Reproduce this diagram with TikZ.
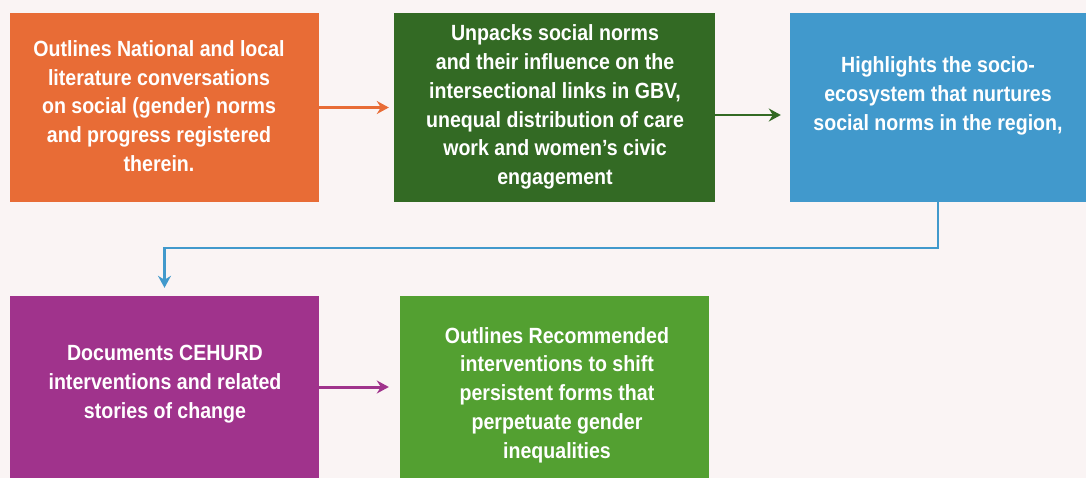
\documentclass[tikz,border=0pt]{standalone}
\usepackage{fontspec}
\usepackage{xcolor}
\usepackage{tikz}
\usetikzlibrary{arrows.meta}
\newfontfamily\boxfont{Liberation Sans}[FakeStretch=0.89]
\definecolor{paper}{HTML}{FAF4F4}
\definecolor{carrot}{HTML}{E86C36}
\definecolor{forest}{HTML}{336A24}
\definecolor{skyblue}{HTML}{4199CC}
\definecolor{plum}{HTML}{A0338C}
\definecolor{leaf}{HTML}{53A031}
\tikzstyle{box}=[draw=none,minimum height=189pt,inner sep=0pt]
\tikzstyle{lowbox}=[box,minimum height=182pt]
\tikzstyle{txt}=[text=white,align=center,inner sep=0pt,font=\boxfont\bfseries\fontsize{22}{28.8}\selectfont]
\tikzstyle{flow}=[line width=2.5pt,-{Stealth[length=12pt,width=13pt,inset=4pt]}]
\begin{document}
\begin{tikzpicture}[x=1pt,y=-1pt]
	\fill[paper] (0,0) rectangle (1086,478);
	\useasboundingbox (0,0) rectangle (1086,478);
	% top row
	\node[box,fill=carrot,minimum width=309pt] (b1) at (164.5,107.5) {};
	\node[box,fill=forest,minimum width=321pt] (b2) at (554.5,107.5) {};
	\node[box,fill=skyblue,minimum width=296pt] (b3) at (938,107.5) {};
	% bottom row
	\node[lowbox,fill=plum,minimum width=309pt] (b4) at (164.5,387) {};
	\node[lowbox,fill=leaf,minimum width=309pt] (b5) at (554.5,387) {};
	% texts
	\node[txt] (t1) at (159,106) {Outlines National and local\\ literature conversations\\ on social (gender) norms\\ and progress registered\\ therein.};
	\node[txt] (t2) at (555,107) {Unpacks social norms\\ and their influence on the\\ intersectional links in GBV,\\ unequal distribution of care\\ work and women’s civic\\ engagement};
	\node[txt] (t3) at (938,96) {Highlights the socio-\\ ecosystem that nurtures\\ social norms in the region,};
	\node[txt] (t4) at (165,384) {Documents CEHURD\\ interventions and related\\ stories of change};
	\node[txt] (t5) at (557,395) {Outlines Recommended\\ interventions to shift\\ persistent forms that\\ perpetuate gender\\ inequalities};
	% connectors
	\coordinate (bend) at (164.5,248);
	\draw[flow,carrot,line width=3pt] (b1.east) -- (b2.west) [shorten >=5pt];
	\draw[flow,forest] ([yshift=-7.5pt]b2.east) -- ([yshift=-7.5pt]b3.west) [shorten >=9pt];
	\draw[flow,skyblue] (b3.south) |- (bend) -- (b4.north) [shorten >=8pt];
	\draw[flow,plum,line width=3pt] (b4.east) -- (b5.west) [shorten >=11pt];
\end{tikzpicture}
\end{document}
